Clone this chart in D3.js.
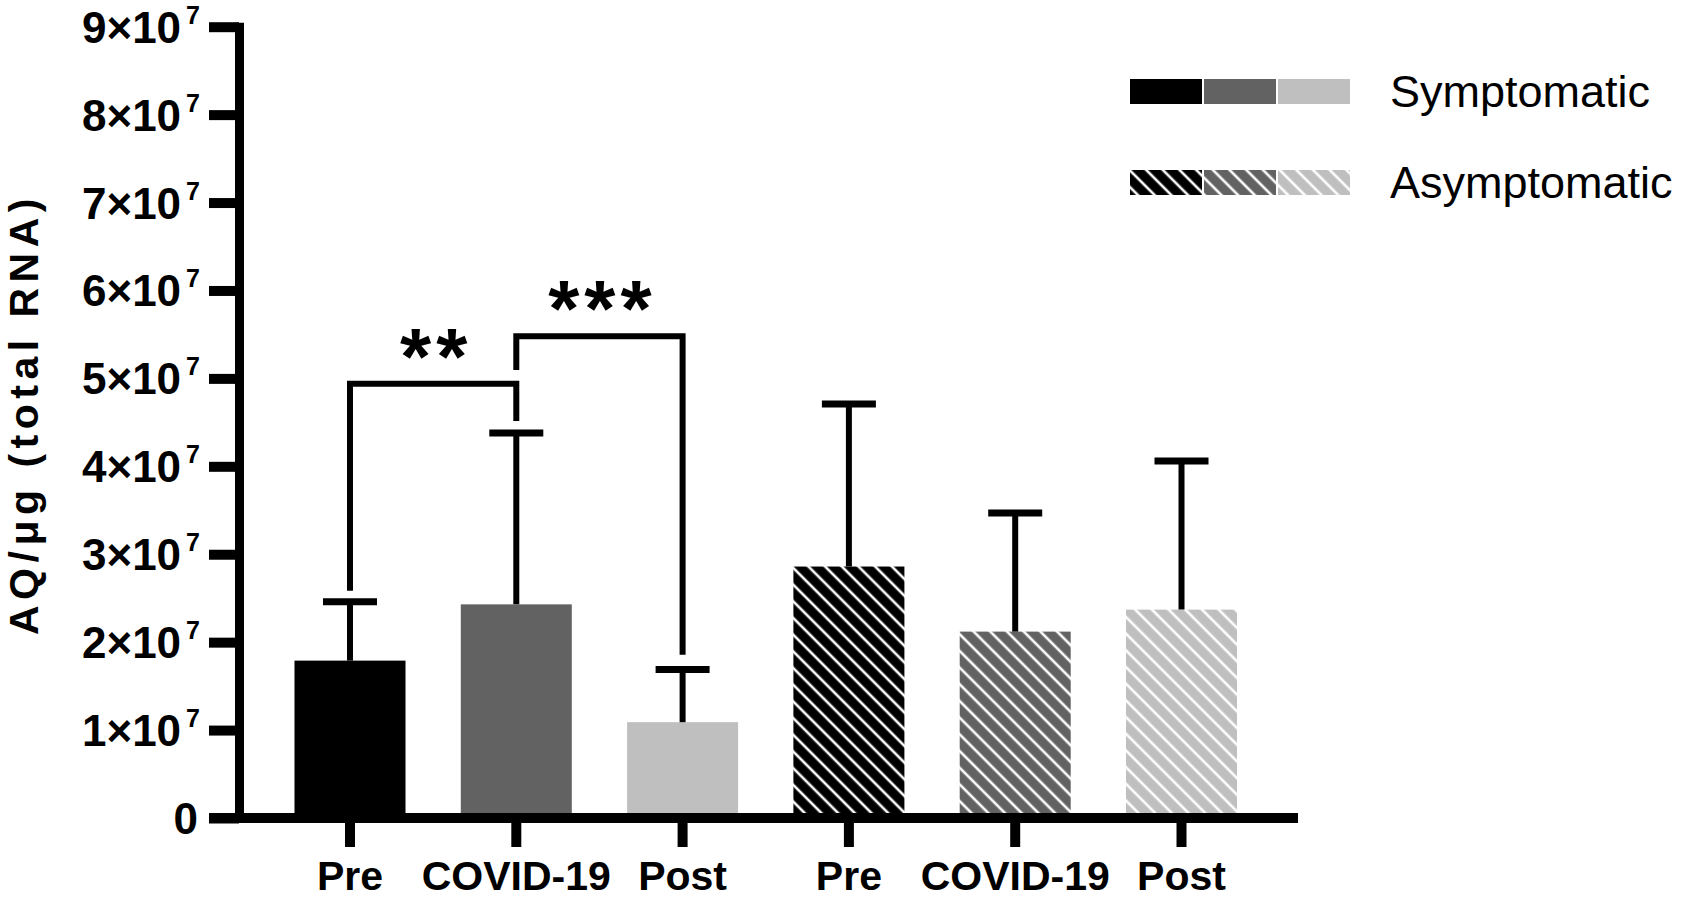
<!DOCTYPE html>
<html>
<head>
<meta charset="utf-8">
<script src="https://cdn.jsdelivr.net/npm/d3@7"></script>
<style>
  html, body { margin: 0; padding: 0; background: #fff; }
  svg { display: block; }
  text { font-family: "Liberation Sans", Arial, Helvetica, sans-serif; }
</style>
</head>
<body>
<svg id="chart" width="1687" height="899"></svg>
<script>
// ---- data ----
const categories = ["Pre", "COVID-19", "Post", "Pre", "COVID-19", "Post"];
const groups = ["Symptomatic", "Symptomatic", "Symptomatic", "Asymptomatic", "Asymptomatic", "Asymptomatic"];
const means = [1.79e7, 2.43e7, 1.09e7, 2.86e7, 2.12e7, 2.37e7];
const upperErrors = [2.46e7, 4.38e7, 1.69e7, 4.71e7, 3.47e7, 4.06e7];
const barColors = ["#000000", "#626262", "#bfbfbf", "#000000", "#626262", "#bfbfbf"];
const yTickValues = [0, 1e7, 2e7, 3e7, 4e7, 5e7, 6e7, 7e7, 8e7, 9e7];
const yTickMantissa = ["0", "1", "2", "3", "4", "5", "6", "7", "8", "9"];
const legendLabels = ["Symptomatic", "Asymptomatic"];
const legendColors = ["#000000", "#626262", "#bfbfbf"];
const bracketFrom = [0, 1];
const bracketTo = [1, 2];
const bracketTop = [4.94e7, 5.48e7];
const bracketLeftEnd = [2.62e7, 5.13e7];
const bracketRightEnd = [4.55e7, 1.89e7];
const bracketLabels = ["**", "***"];
const yTitle = "AQ/\u03bcg (total RNA)";

// ---- layout ----
const svg = d3.select("#chart");
const axisX = 239;
const xAxisRight = 1298;
const y = d3.scaleLinear().domain([0, 9e7]).range([818, 26.7]);
const x = d3.scaleBand()
  .domain(d3.range(categories.length))
  .range([266.85, 1264.65])
  .paddingInner(0.3325)
  .paddingOuter(0.16625);
const cx = i => x(i) + x.bandwidth() / 2;

// patterns
const defs = svg.append("defs");
const hatchSize = 11.8;
legendColors.forEach((c, k) => {
  const p = defs.append("pattern")
    .attr("id", "hatch" + k)
    .attr("patternUnits", "userSpaceOnUse")
    .attr("width", hatchSize).attr("height", hatchSize)
    .attr("patternTransform", "rotate(45)");
  p.append("rect").attr("width", hatchSize).attr("height", hatchSize).attr("fill", c);
  p.append("line")
    .attr("x1", -1).attr("x2", hatchSize + 1)
    .attr("y1", hatchSize / 2).attr("y2", hatchSize / 2)
    .attr("stroke", "#fff").attr("stroke-width", 2.6);
});
const fillFor = i => groups[i] === "Symptomatic" ? barColors[i] : "url(#hatch" + legendColors.indexOf(barColors[i]) + ")";

// bars
svg.append("g").selectAll("rect")
  .data(means)
  .join("rect")
  .attr("x", (d, i) => x(i))
  .attr("width", x.bandwidth())
  .attr("y", d => y(d))
  .attr("height", d => y(0) - y(d))
  .attr("fill", (d, i) => fillFor(i));

// error bars
const eg = svg.append("g").attr("stroke", "#000");
eg.selectAll("line.v")
  .data(means)
  .join("line").attr("class", "v")
  .attr("x1", (d, i) => cx(i)).attr("x2", (d, i) => cx(i))
  .attr("y1", d => y(d)).attr("y2", (d, i) => y(upperErrors[i]))
  .attr("stroke-width", 6);
eg.selectAll("line.cap")
  .data(upperErrors)
  .join("line").attr("class", "cap")
  .attr("x1", (d, i) => cx(i) - 27).attr("x2", (d, i) => cx(i) + 27)
  .attr("y1", d => y(d)).attr("y2", d => y(d))
  .attr("stroke-width", 7);

// y axis
const yAxis = d3.axisLeft(y).tickValues(yTickValues).tickSize(30).tickSizeOuter(0).tickFormat("");
const yg = svg.append("g").attr("transform", `translate(${axisX},0)`).call(yAxis);
yg.select(".domain").attr("stroke", "#000").attr("stroke-width", 9).attr("stroke-linecap", "square");
yg.selectAll(".tick line").attr("stroke", "#000").attr("stroke-width", 10);

// y tick labels
const yl = svg.append("g").attr("font-weight", "bold").attr("text-anchor", "end");
yTickValues.forEach((v, i) => {
  const t = yl.append("text")
    .attr("x", 200)
    .attr("y", y(v) + 16)
    .attr("font-size", 44);
  if (v === 0) {
    t.attr("x", 198).text("0");
  } else {
    t.append("tspan").text(yTickMantissa[i] + "\u00d710");
    t.append("tspan").attr("font-size", 25).attr("dx", 5).attr("dy", -19).text("7");
  }
});

// x axis
svg.append("line")
  .attr("x1", axisX - 30).attr("x2", xAxisRight)
  .attr("y1", y(0)).attr("y2", y(0))
  .attr("stroke", "#000").attr("stroke-width", 10);
const xAxis = d3.axisBottom(x).tickSize(29).tickSizeOuter(0).tickFormat("");
const xg = svg.append("g").attr("transform", `translate(0,${y(0)})`).call(xAxis);
xg.select(".domain").remove();
xg.selectAll(".tick line").attr("stroke", "#000").attr("stroke-width", 10);

svg.append("g").selectAll("text")
  .data(categories)
  .join("text")
  .attr("x", (d, i) => cx(i))
  .attr("y", 890)
  .attr("text-anchor", "middle")
  .attr("font-weight", "bold")
  .attr("font-size", 41)
  .text(d => d);

// y title
svg.append("text")
  .attr("transform", `translate(38,${414}) rotate(-90)`)
  .attr("text-anchor", "middle")
  .attr("font-weight", "bold")
  .attr("font-size", 41)
  .attr("letter-spacing", 5.5)
  .text(yTitle);

// significance brackets
const bg = svg.append("g");
bracketLabels.forEach((lab, k) => {
  const x1 = cx(bracketFrom[k]), x2 = cx(bracketTo[k]);
  const path = d3.path();
  path.moveTo(x1, y(bracketLeftEnd[k]));
  path.lineTo(x1, y(bracketTop[k]));
  path.lineTo(x2, y(bracketTop[k]));
  path.lineTo(x2, y(bracketRightEnd[k]));
  bg.append("path").attr("d", path.toString())
    .attr("fill", "none").attr("stroke", "#000").attr("stroke-width", 6)
    .attr("stroke-linejoin", "miter").attr("stroke-linecap", "square");
  bg.append("text")
    .attr("x", (x1 + x2) / 2 + 3)
    .attr("y", y(bracketTop[k]))
    .attr("text-anchor", "middle")
    .attr("font-weight", "bold")
    .attr("font-size", 80)
    .attr("letter-spacing", 5)
    .text(lab);
});

// legend
const lg = svg.append("g");
legendLabels.forEach((lab, r) => {
  const top = r === 0 ? 79 : 170;
  legendColors.forEach((c, k) => {
    lg.append("rect")
      .attr("x", 1130 + k * 74).attr("y", top)
      .attr("width", 72).attr("height", 25)
      .attr("fill", r === 0 ? c : "url(#hatch" + k + ")");
  });
  lg.append("text")
    .attr("x", 1390).attr("y", top + 28)
    .attr("font-size", 45)
    .text(lab);
});
</script>
</body>
</html>
